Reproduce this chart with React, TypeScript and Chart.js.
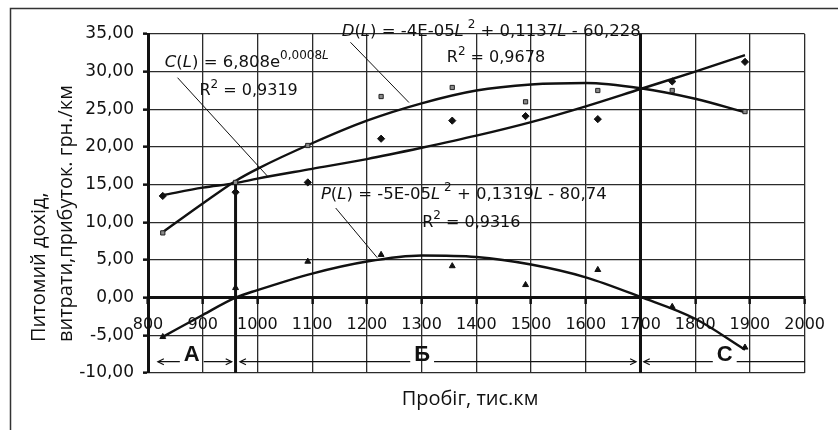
import React, { useEffect, useRef } from 'react';
import { Chart, registerables } from 'chart.js';

Chart.register(...registerables);

// ---- data ----
const X_MIN = 800;
const X_MAX = 2000;
const X_STEP = 100;
const Y_MIN = -10;
const Y_MAX = 35;
const Y_STEP = 5;

// observed points (mileage, thousand km)
const PT_L = [827, 960, 1092, 1226, 1356, 1490, 1622, 1758, 1891];
const C_PTS = [13.5, 14.0, 15.3, 21.1, 23.5, 24.1, 23.7, 28.7, 31.3];
const D_PTS = [8.6, 15.3, 20.2, 26.7, 27.9, 26.0, 27.5, 27.5, 24.7];
const P_PTS = [-5.2, 1.3, 4.8, 5.7, 4.2, 1.7, 3.7, -1.2, -6.6];

// trend curves
const CURVE_L = [827, 900, 960, 1000, 1100, 1200, 1300, 1400, 1500, 1600, 1700, 1800, 1891];
const C_TREND = [13.6, 14.6, 15.2, 15.8, 17.1, 18.4, 19.9, 21.5, 23.3, 25.4, 27.7, 30.0, 32.2];
const D_TREND = [8.7, 12.5, 15.5, 17.1, 20.5, 23.5, 25.8, 27.5, 28.3, 28.5, 27.8, 26.4, 24.6];
const P_TREND = [-5.2, -2.3, 0.0, 1.0, 3.2, 4.8, 5.6, 5.4, 4.4, 2.7, 0.1, -2.8, -6.9];

// break-even markers and zones
const BREAK_L = [960, 1700];
const BREAK_TOP = [15.0, 35];
const ZONE_NAMES = ['А', 'Б', 'С'];
const ZONE_FROM = [818, 968, 1706];
const ZONE_TO = [953, 1692, 2000];
const ZONE_MID = [880, 1301, 1854];
const ZONE_Y = -8.5;
const ZONE_LABEL_Y = -7.6;

const X_TITLE = 'Пробіг, тис.км';
const Y_TITLE = ['Питомий дохід,', 'витрати,прибуток. грн./км'];

type Run = { t: string; it?: boolean; sup?: boolean };

const EQ_C: Run[] = [
  { t: 'C', it: true }, { t: '(' }, { t: 'L', it: true }, { t: ') = 6,808e' },
  { t: '0,0008', sup: true }, { t: 'L', sup: true, it: true },
];
const R2_C: Run[] = [{ t: 'R' }, { t: '2', sup: true }, { t: ' = 0,9319' }];
const EQ_D: Run[] = [
  { t: 'D', it: true }, { t: '(' }, { t: 'L', it: true }, { t: ') = -4E-05' }, { t: 'L', it: true },
  { t: ' 2', sup: true }, { t: ' + 0,1137' }, { t: 'L', it: true }, { t: ' - 60,228' },
];
const R2_D: Run[] = [{ t: 'R' }, { t: '2', sup: true }, { t: ' = 0,9678' }];
const EQ_P: Run[] = [
  { t: 'P', it: true }, { t: '(' }, { t: 'L', it: true }, { t: ') = -5E-05' }, { t: 'L', it: true },
  { t: ' 2', sup: true }, { t: ' + 0,1319' }, { t: 'L', it: true }, { t: ' - 80,74' },
];
const R2_P: Run[] = [{ t: 'R' }, { t: '2', sup: true }, { t: ' = 0,9316' }];

const FONT = '"DejaVu Sans", "Liberation Sans", sans-serif';
const TITLE_FONT = '"Open Sans", "Noto Sans", sans-serif';
const INK = '#111';

const pts = (xs: number[], ys: number[]) => xs.map((x, i) => ({ x, y: ys[i] }));

function drawRich(ctx: CanvasRenderingContext2D, runs: Run[], x: number, y: number, size: number) {
  let cx = x;
  ctx.textAlign = 'left';
  ctx.textBaseline = 'middle';
  for (const r of runs) {
    const fs = r.sup ? Math.round(size * 0.72) : size;
    ctx.font = `${r.it ? 'italic ' : ''}${fs}px ${FONT}`;
    const dy = r.sup ? -size * 0.42 : 0;
    ctx.fillText(r.t, cx, y + dy);
    cx += ctx.measureText(r.t).width;
  }
}

const annotations = {
  id: 'annotations',
  afterDraw(chart: any) {
    const { ctx, chartArea, scales } = chart;
    const xs = scales.x;
    const ys = scales.y;
    const px = (v: number) => xs.getPixelForValue(v);
    const py = (v: number) => ys.getPixelForValue(v);
    ctx.save();

    // outer frame (only left and top are inside the picture)
    ctx.strokeStyle = '#333';
    ctx.lineWidth = 1.5;
    ctx.beginPath();
    ctx.moveTo(10.5, chart.height + 5);
    ctx.lineTo(10.5, 8.5);
    ctx.lineTo(chart.width + 5, 8.5);
    ctx.stroke();

    // break-even vertical lines
    ctx.strokeStyle = INK;
    ctx.lineWidth = 3;
    BREAK_L.forEach((l, i) => {
      ctx.beginPath();
      ctx.moveTo(px(l), py(BREAK_TOP[i]));
      ctx.lineTo(px(l), py(Y_MIN));
      ctx.stroke();
    });

    // leader lines
    ctx.lineWidth = 1;
    const leaders = [
      [854, 29.2, 1020, 16.0],
      [1170, 33.9, 1277, 25.9],
      [1143, 11.9, 1219, 5.3],
    ];
    leaders.forEach(([a, b, c, d]) => {
      ctx.beginPath();
      ctx.moveTo(px(a), py(b));
      ctx.lineTo(px(c), py(d));
      ctx.stroke();
    });

    // equations
    ctx.fillStyle = INK;
    drawRich(ctx, EQ_C, px(830.7), py(31.2), 16.5);
    drawRich(ctx, R2_C, px(894), py(27.4), 16);
    drawRich(ctx, EQ_D, px(1154), py(35.3), 16.5);
    drawRich(ctx, R2_D, px(1346), py(31.8), 16);
    drawRich(ctx, EQ_P, px(1116), py(13.6), 16.5);
    drawRich(ctx, R2_P, px(1301), py(9.9), 16);

    // zones with arrows
    ctx.font = `bold 22px "Liberation Sans", Arial, sans-serif`;
    ctx.textAlign = 'center';
    ctx.textBaseline = 'middle';
    ctx.lineWidth = 1.2;
    const yl = py(ZONE_Y);
    ZONE_NAMES.forEach((name, i) => {
      const x1 = px(ZONE_FROM[i]);
      const x2 = px(ZONE_TO[i]);
      const xm = px(ZONE_MID[i]);
      const w = ctx.measureText(name).width;
      ctx.beginPath();
      ctx.moveTo(x1, yl);
      ctx.lineTo(xm - w / 2 - 4, yl);
      ctx.moveTo(xm + w / 2 + 4, yl);
      ctx.lineTo(x2, yl);
      ctx.stroke();
      ctx.beginPath();
      ctx.moveTo(x1 + 6, yl - 3);
      ctx.lineTo(x1, yl);
      ctx.lineTo(x1 + 6, yl + 3);
      ctx.stroke();
      if (i < ZONE_NAMES.length - 1) {
        ctx.beginPath();
        ctx.moveTo(x2 - 6, yl - 3);
        ctx.lineTo(x2, yl);
        ctx.lineTo(x2 - 6, yl + 3);
        ctx.stroke();
      }
      ctx.fillText(name, xm, py(ZONE_LABEL_Y));
    });

    // axis titles
    ctx.font = `20px ${TITLE_FONT}`;
    ctx.textAlign = 'center';
    ctx.fillText(X_TITLE, 470, 399);
    ctx.textAlign = 'left';
    Y_TITLE.forEach((line, i) => {
      ctx.save();
      ctx.translate(chartArea.left - 109 + i * 27, chartArea.bottom - 31);
      ctx.rotate(-Math.PI / 2);
      ctx.fillText(line, 0, 0);
      ctx.restore();
    });

    ctx.restore();
  },
};

export default function App() {
  const ref = useRef<HTMLCanvasElement | null>(null);

  useEffect(() => {
    if (!ref.current) return;
    const gridColor = '#2b2b2b';
    const chart = new Chart(ref.current, {
      type: 'scatter',
      data: {
        datasets: [
          {
            label: 'C points', data: pts(PT_L, C_PTS), showLine: false,
            pointStyle: 'rectRot', pointRadius: 3.6, pointBackgroundColor: INK, pointBorderColor: INK, pointBorderWidth: 1,
          },
          {
            label: 'D points', data: pts(PT_L, D_PTS), showLine: false,
            pointStyle: 'rect', pointRadius: 3, pointBackgroundColor: '#8a8a8a', pointBorderColor: '#222', pointBorderWidth: 1,
          },
          {
            label: 'P points', data: pts(PT_L, P_PTS), showLine: false,
            pointStyle: 'triangle', pointRadius: 3.4, pointBackgroundColor: INK, pointBorderColor: INK, pointBorderWidth: 1,
          },
          {
            label: 'C(L)', data: pts(CURVE_L, C_TREND), showLine: true, pointRadius: 0,
            borderColor: INK, borderWidth: 2.4, cubicInterpolationMode: 'monotone', fill: false,
          },
          {
            label: 'D(L)', data: pts(CURVE_L, D_TREND), showLine: true, pointRadius: 0,
            borderColor: INK, borderWidth: 2.4, cubicInterpolationMode: 'monotone', fill: false,
          },
          {
            label: 'P(L)', data: pts(CURVE_L, P_TREND), showLine: true, pointRadius: 0,
            borderColor: INK, borderWidth: 2.4, cubicInterpolationMode: 'monotone', fill: false,
          },
        ],
      },
      options: {
        responsive: false,
        devicePixelRatio: 1,
        animation: false,
        layout: { padding: { left: 10, top: 34, right: 26, bottom: 57 } },
        plugins: { legend: { display: false }, tooltip: { enabled: false } },
        scales: {
          x: {
            type: 'linear',
            position: { y: 0 } as any,
            min: X_MIN,
            max: X_MAX,
            ticks: {
              stepSize: X_STEP,
              autoSkip: false,
              maxRotation: 0,
              padding: 13,
              color: INK,
              font: { family: FONT, size: 16 },
              callback: (v: any) => String(v),
            },
            grid: {
              color: gridColor,
              lineWidth: (c: any) => (c.tick && c.tick.value === 1700 ? 3 : 1.3),
              tickLength: 5,
              tickWidth: 2.5,
              tickColor: INK,
            },
            border: { display: true, color: INK, width: 3 },
          },
          y: {
            type: 'linear',
            position: 'left',
            min: Y_MIN,
            max: Y_MAX,
            ticks: {
              stepSize: Y_STEP,
              padding: 9,
              color: INK,
              font: { family: FONT, size: 17 },
              callback: (v: any) => Number(v).toFixed(2).replace('.', ','),
            },
            grid: { color: gridColor, lineWidth: 1.3, tickLength: 5, tickWidth: 2.5, tickColor: INK },
            border: { display: true, color: INK, width: 3 },
            afterFit: (s: any) => { s.width = 138; },
          },
        },
      },
      plugins: [annotations],
    } as any);
    return () => chart.destroy();
  }, []);

  return (
    <div style={{ position: 'absolute', left: 0, top: 0, width: 838, height: 430, background: '#fff' }}>
      <canvas ref={ref} width={838} height={430} style={{ display: 'block' }} />
    </div>
  );
}
